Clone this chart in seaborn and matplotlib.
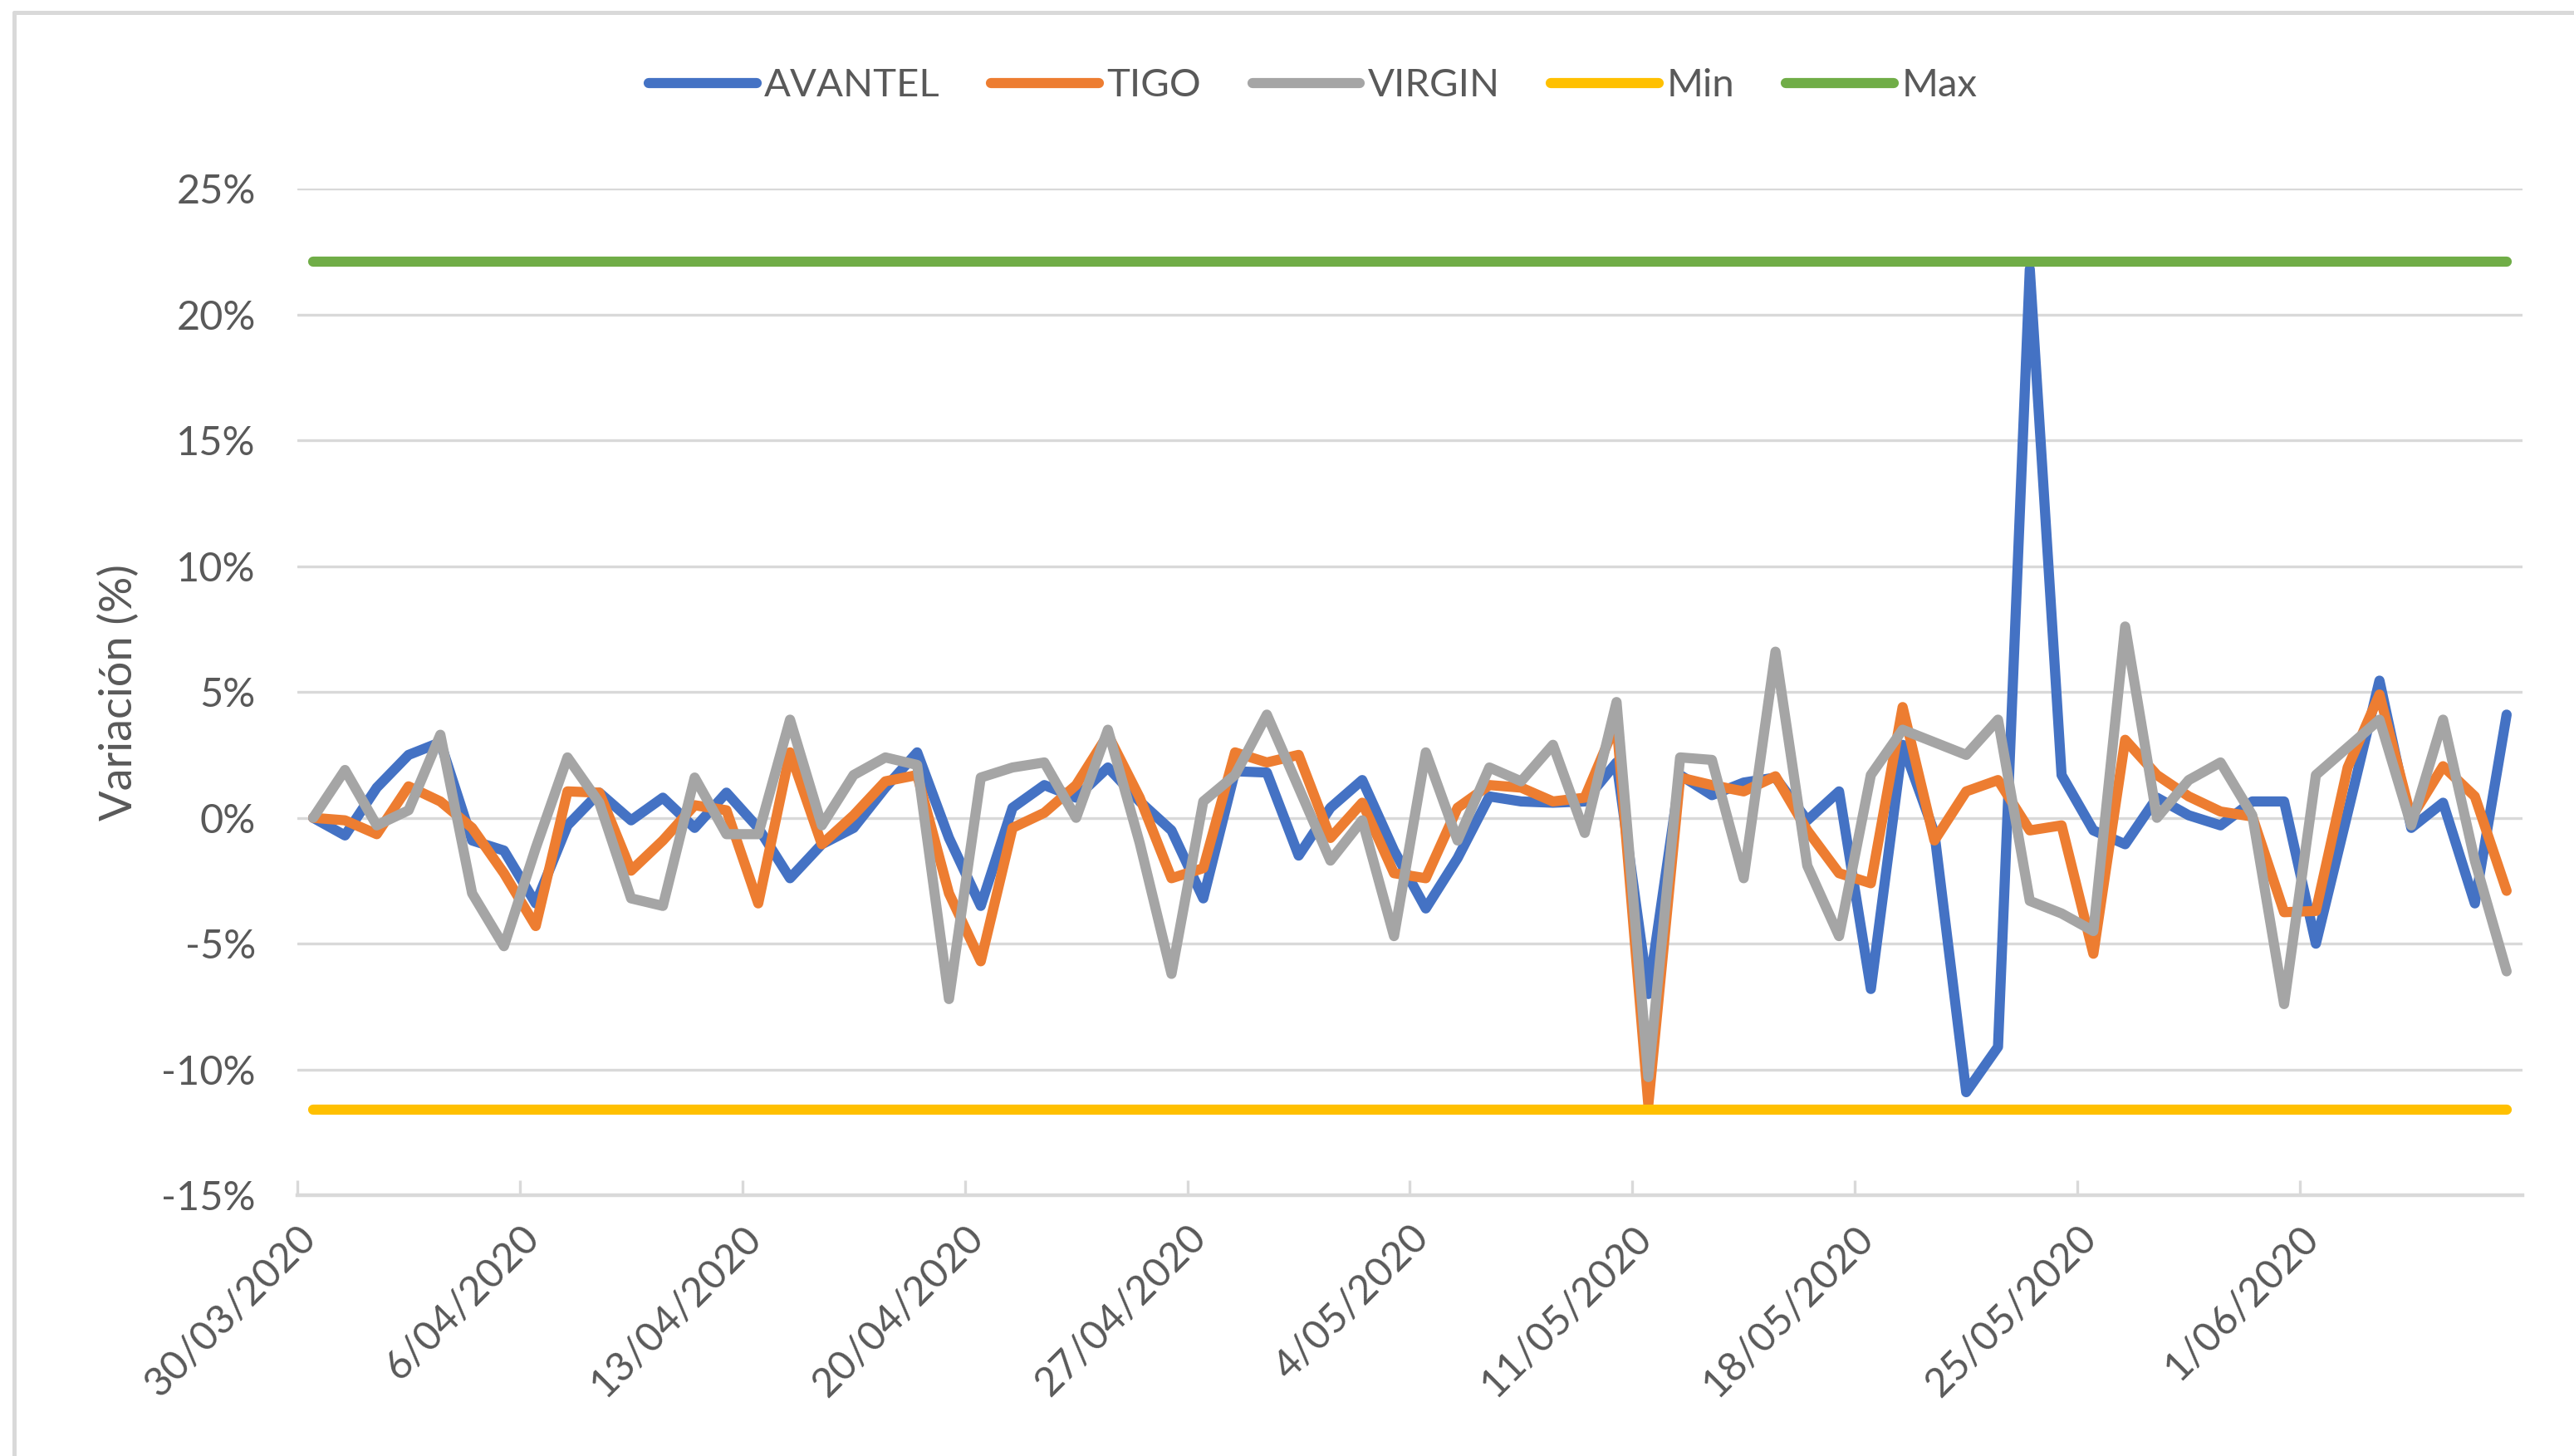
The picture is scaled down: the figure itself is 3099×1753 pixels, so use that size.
import pandas as pd
import numpy as np
import seaborn as sns
import matplotlib.pyplot as plt
from matplotlib.ticker import FuncFormatter
from matplotlib.lines import Line2D

# daily values (%), 30/03/2020 .. 7/06/2020
avantel = [0.0, -0.7, 1.2, 2.5, 3.0, -0.9, -1.3, -3.4, -0.3, 1.0,
           -0.1, 0.8, -0.4, 1.0, -0.4, -2.4, -1.05, -0.4, 1.2, 2.6,
           -0.8, -3.5, 0.4, 1.3, 0.8, 2.0, 0.65, -0.5, -3.2, 1.85,
           1.8, -1.5, 0.4, 1.5, -1.3, -3.6, -1.6, 0.85, 0.65, 0.6,
           0.65, 2.2, -7.0, 1.7, 0.9, 1.4, 1.6, -0.1, 1.05, -6.8,
           2.9, -0.6, -10.9, -9.1, 21.8, 1.7, -0.5, -1.05, 0.8, 0.1,
           -0.3, 0.65, 0.65, -5.0, 0.2, 5.45, -0.4, 0.6, -3.4, 4.1]
tigo = [0.0, -0.1, -0.65, 1.25, 0.65, -0.4, -2.2, -4.3, 1.05, 1.0,
        -2.1, -0.9, 0.5, 0.3, -3.4, 2.6, -1.05, 0.1, 1.45, 1.7,
        -3.0, -5.7, -0.4, 0.2, 1.3, 3.3, 0.8, -2.4, -2.0, 2.6,
        2.2, 2.5, -0.8, 0.6, -2.2, -2.4, 0.4, 1.3, 1.2, 0.65,
        0.8, 3.8, -11.4, 1.6, 1.3, 1.05, 1.65, -0.5, -2.2, -2.6,
        4.4, -0.9, 1.05, 1.5, -0.5, -0.3, -5.4, 3.1, 1.7, 0.85,
        0.25, 0.05, -3.75, -3.7, 2.0, 4.9, 0.0, 2.05, 0.85, -2.9]
virgin = [0.0, 1.9, -0.3, 0.3, 3.3, -3.0, -5.1, -1.2, 2.4, 0.6,
          -3.2, -3.5, 1.6, -0.65, -0.65, 3.9, -0.3, 1.7, 2.4, 2.1,
          -7.2, 1.6, 2.0, 2.2, 0.0, 3.5, -1.0, -6.2, 0.65, 1.7,
          4.1, 1.2, -1.7, -0.1, -4.7, 2.6, -0.9, 2.0, 1.45, 2.9,
          -0.6, 4.6, -10.3, 2.4, 2.3, -2.4, 6.6, -1.9, -4.7, 1.7,
          3.5, 3.0, 2.5, 3.9, -3.3, -3.8, -4.5, 7.6, 0.0, 1.5,
          2.2, 0.1, -7.4, 1.7, 2.8, 3.9, -0.3, 3.9, -1.7, -6.1]
min_val = -11.6
max_val = 22.1

series_names = ['AVANTEL', 'TIGO', 'VIRGIN', 'Min', 'Max']
colores = ['#4472C4', '#ED7D31', '#A5A5A5', '#FFC000', '#70AD47']

fechas = pd.date_range('2020-03-30', periods=len(avantel), freq='D')
tick_fechas = pd.date_range('2020-03-30', '2020-06-01', freq='7D')

n = len(fechas)
df = pd.DataFrame({
    'fecha': np.tile(fechas + pd.Timedelta(hours=12), 5),
    'variacion': avantel + tigo + virgin + [min_val] * n + [max_val] * n,
    'serie': np.repeat(series_names, n),
})

sns.set_theme(style='white')
plt.rcParams['font.family'] = ['Lato', 'DejaVu Sans']
plt.rcParams['axes.unicode_minus'] = False

fig = plt.figure(figsize=(15.495, 8.765), dpi=200)
ax = fig.add_axes([0.1155, 0.179, 0.8645, 0.6915])

sns.lineplot(data=df, x='fecha', y='variacion', hue='serie', hue_order=series_names,
             palette=colores, linewidth=4.4, ax=ax, legend=True)

handles, labels = ax.get_legend_handles_labels()
ax.get_legend().remove()
fig.legend(handles, labels, loc='center', bbox_to_anchor=(0.51, 0.941), ncol=5,
           frameon=False, fontsize=17, handlelength=2.75, handletextpad=0.2,
           columnspacing=1.3, labelcolor='#595959')

ax.set_ylim(-15, 25)
ax.set_yticks(range(-15, 26, 5))
ax.yaxis.set_major_formatter(FuncFormatter(lambda v, p: f'{int(v)}%'))
ax.set_xlim(fechas[0], fechas[-1] + pd.Timedelta(days=1))
ax.set_xticks(tick_fechas)
ax.set_xticklabels([f'{d.day}/{d.month:02d}/{d.year}' for d in tick_fechas],
                   rotation=45, ha='right', rotation_mode='anchor')

ax.grid(axis='y', color='#D9D9D9', linewidth=1.2)
ax.grid(axis='x', visible=False)
ax.set_axisbelow(True)
for s in ['left', 'right', 'top']:
    ax.spines[s].set_visible(False)
ax.spines['bottom'].set_color('#D9D9D9')
ax.spines['bottom'].set_linewidth(1.6)

ax.tick_params(axis='y', length=0, pad=18, labelsize=17.5, labelcolor='#595959')
ax.tick_params(axis='x', direction='in', length=6.5, width=1.2, color='#D9D9D9',
               pad=10, labelsize=17.5, labelcolor='#595959', bottom=True)

ax.set_xlabel('')
ax.set_ylabel('Variación (%)', fontsize=19.5, color='#595959')
ax.yaxis.set_label_coords(-0.071, 0.5)

# chart border
fig.add_artist(Line2D([0.0056, 0.0056], [0, 0.9915], color='#D9D9D9', linewidth=1.8,
                      transform=fig.transFigure))
fig.add_artist(Line2D([0.0056, 1.0], [0.9915, 0.9915], color='#D9D9D9', linewidth=1.8,
                      transform=fig.transFigure))

fig.savefig('out.png', dpi=200)
